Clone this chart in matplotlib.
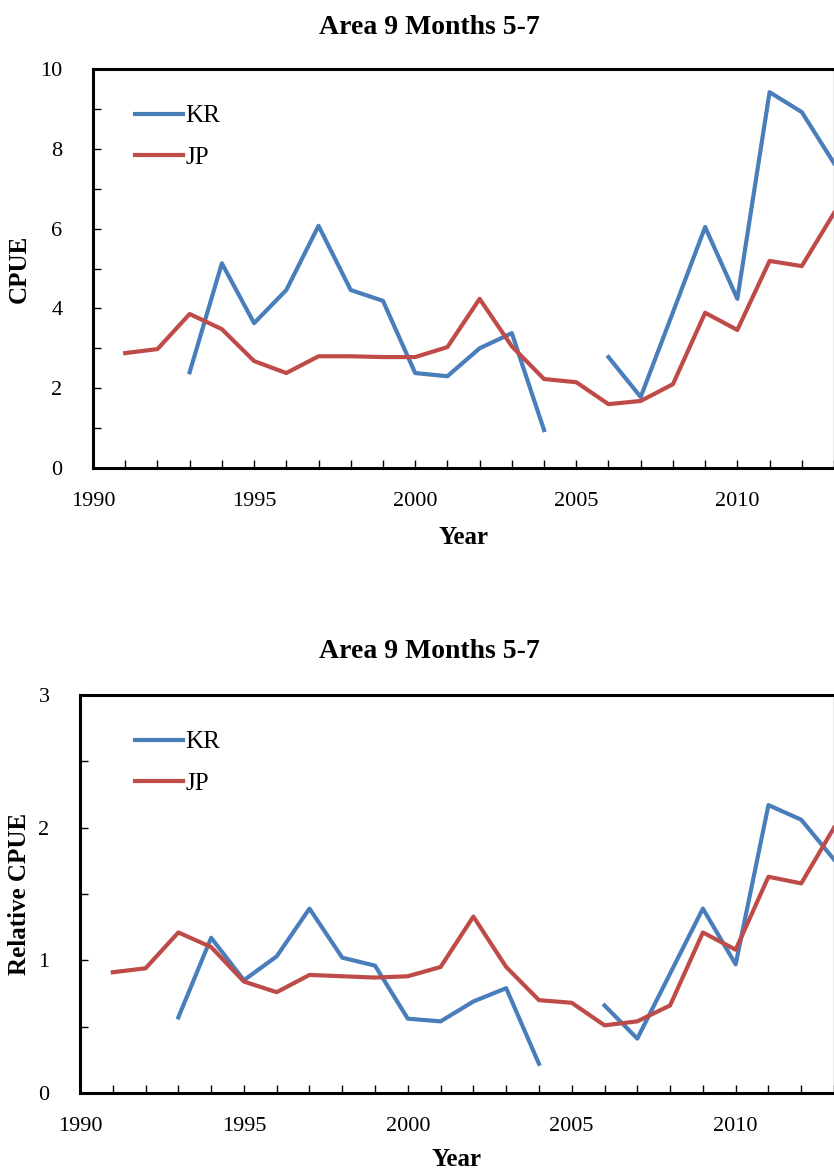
import matplotlib.pyplot as plt
from matplotlib.ticker import MultipleLocator
import numpy as np

years = list(range(1991, 2014))
nan = np.nan

kr_cpue = [nan, nan, 2.40, 5.13, 3.63, 4.46, 6.07, 4.46, 4.19, 2.38, 2.30, 3.00, 3.38, 0.95,
           nan, 2.78, 1.78, 3.90, 6.04, 4.24, 9.42, 8.92, 7.64]
jp_cpue = [2.88, 2.98, 3.86, 3.48, 2.68, 2.38, 2.80, 2.80, 2.78, 2.78, 3.03, 4.24, 3.05, 2.23,
           2.15, 1.60, 1.68, 2.10, 3.89, 3.46, 5.19, 5.06, 6.39]

kr_rel = [nan, nan, 0.57, 1.17, 0.85, 1.03, 1.39, 1.02, 0.96, 0.56, 0.54, 0.69, 0.79, 0.22,
          nan, 0.66, 0.41, 0.90, 1.39, 0.97, 2.17, 2.06, 1.76]
jp_rel = [0.91, 0.94, 1.21, 1.10, 0.84, 0.76, 0.89, 0.88, 0.87, 0.88, 0.95, 1.33, 0.95, 0.70,
          0.68, 0.51, 0.54, 0.66, 1.21, 1.08, 1.63, 1.58, 2.00]

title = "Area 9 Months 5-7"
blue = "#4A7EBB"
red = "#BE4B48"

plt.rcParams['font.family'] = ['Liberation Serif', 'DejaVu Serif']

W, H = 834, 1171
fig = plt.figure(figsize=(W / 100, H / 100), dpi=100)


def make_axes(left, top, bottom):
    return fig.add_axes([left / W, 1 - bottom / H, (W - left) / W, (bottom - top) / H])


def style(ax, left, top, bottom, ymax, ymajor, yminor, ylabel, xlab_gap, title_y):
    ax.set_xlim(1990, 2013)
    ax.set_ylim(0, ymax)
    ax.xaxis.set_major_locator(MultipleLocator(5))
    ax.xaxis.set_minor_locator(MultipleLocator(1))
    ax.yaxis.set_major_locator(MultipleLocator(ymajor))
    ax.yaxis.set_minor_locator(MultipleLocator(yminor))
    ax.tick_params(which='both', direction='in', labelsize=16, colors='black',
                   length=6, width=1)
    ax.tick_params(axis='y', pad=22)
    ax.tick_params(axis='x', pad=17)
    for s in ['left', 'bottom', 'top']:
        ax.spines[s].set_linewidth(2.2)
        ax.spines[s].set_color('black')
    ax.spines['right'].set_linewidth(1)
    ax.spines['right'].set_color('#999999')
    ax.set_xlabel("Year", fontsize=18, fontweight='bold')
    ax.set_ylabel(ylabel, fontsize=18, fontweight='bold')
    hgt = bottom - top
    ax.xaxis.set_label_coords(0.5, -xlab_gap / hgt)
    ax.yaxis.set_label_coords(-(left - 31) / (W - left), 0.5)
    fig.text(429 / W, 1 - title_y / H, title, fontsize=20, fontweight='bold',
             ha='center', va='center')
    ax.legend(loc='upper left', bbox_to_anchor=(135 / W, 1 - (top + 36) / H),
              bbox_transform=fig.transFigure, frameon=False, borderpad=0,
              borderaxespad=0, fontsize=18, handlelength=1.9, handletextpad=0.1,
              labelspacing=0.75)


ax1 = make_axes(93, 69, 468)
ax1.plot(years, kr_cpue, color=blue, lw=3, label="KR")
ax1.plot(years, jp_cpue, color=red, lw=3, label="JP")
style(ax1, 93, 69, 468, 10, 2, 1, "CPUE", 58, 27)

ax2 = make_axes(80, 695, 1093)
ax2.plot(years, kr_rel, color=blue, lw=3, label="KR")
ax2.plot(years, jp_rel, color=red, lw=3, label="JP")
style(ax2, 80, 695, 1093, 3, 1, 0.5, "Relative CPUE", 55, 652)

fig.savefig("out.png", dpi=100)
